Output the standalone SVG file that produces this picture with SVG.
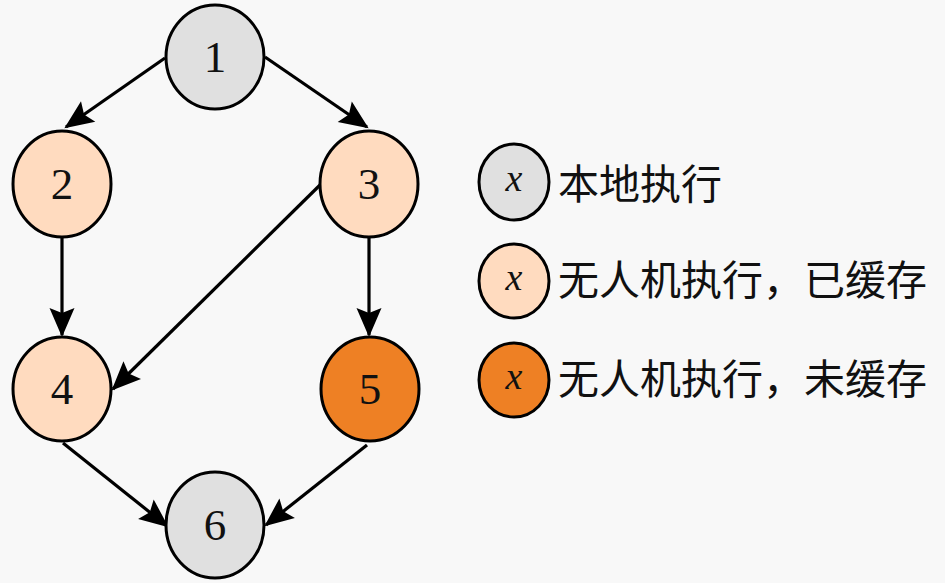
<svg xmlns="http://www.w3.org/2000/svg" width="945" height="583" viewBox="0 0 945 583">
<style>
.n{stroke:#000;stroke-width:3}
.g{fill:#e0e0e0}
.p{fill:#ffdbbf}
.o{fill:#ee8024}
.num{font-family:"Liberation Serif","DejaVu Serif",serif;font-size:45px;text-anchor:middle;fill:#111}
.x{font-family:"Liberation Serif","DejaVu Serif",serif;font-style:italic;font-size:38px;text-anchor:middle;fill:#111}
.lab{font-family:"Noto Sans CJK SC","Noto Sans",sans-serif;font-size:41px;fill:#111}
.e{stroke:#000;stroke-width:3.2;fill:none;marker-end:url(#ah)}
</style>
<defs>
<marker id="ah" markerUnits="userSpaceOnUse" markerWidth="32" markerHeight="28" refX="28" refY="14" orient="auto" style="overflow:visible">
<path d="M30,14 L1,1.5 L6,14 L1,26.5 Z" fill="#000" stroke="none"/>
</marker>
</defs>
<rect width="945" height="583" fill="#f8f8f8"/>
<g id="edges">
<line class="e" x1="165" y1="58" x2="66" y2="127"/>
<line class="e" x1="265" y1="57" x2="367" y2="127"/>
<line class="e" x1="62" y1="237" x2="62" y2="335"/>
<line class="e" x1="320" y1="185" x2="113" y2="389"/>
<line class="e" x1="369" y1="237" x2="369" y2="335"/>
<line class="e" x1="63" y1="443" x2="167" y2="526"/>
<line class="e" x1="367" y1="445" x2="266" y2="525"/>
</g>
<g id="node1"><ellipse class="n g" cx="215" cy="57" rx="49" ry="52"/><text class="num" x="215" y="72">1</text></g>
<g id="node2"><ellipse class="n p" cx="62" cy="184" rx="49" ry="53"/><text class="num" x="62" y="199">2</text></g>
<g id="node3"><ellipse class="n p" cx="369" cy="184" rx="49" ry="53"/><text class="num" x="369" y="199">3</text></g>
<g id="node4"><ellipse class="n p" cx="62" cy="389" rx="49" ry="52"/><text class="num" x="62" y="404">4</text></g>
<g id="node5"><ellipse class="n o" cx="370" cy="389" rx="49" ry="52"/><text class="num" x="370" y="404">5</text></g>
<g id="node6"><ellipse class="n g" cx="215" cy="525" rx="49" ry="53"/><text class="num" x="215" y="540">6</text></g>
<g id="legend1"><ellipse class="n g" cx="514" cy="182" rx="35" ry="38"/><text class="x" x="514" y="191">x</text><text class="lab" x="558" y="199">本地执行</text></g>
<g id="legend2"><ellipse class="n p" cx="514" cy="281" rx="35" ry="37"/><text class="x" x="514" y="290">x</text><text class="lab" x="558" y="295">无人机执行，已缓存</text></g>
<g id="legend3"><ellipse class="n o" cx="514" cy="380" rx="35" ry="37"/><text class="x" x="514" y="389">x</text><text class="lab" x="558" y="394">无人机执行，未缓存</text></g>
</svg>
